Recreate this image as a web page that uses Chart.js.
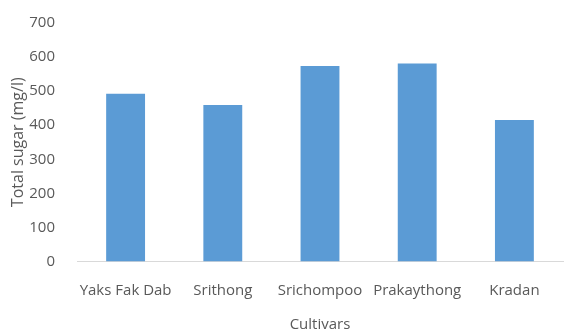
<!DOCTYPE html>
<html>
<head>
<meta charset="utf-8">
<script src="https://cdn.jsdelivr.net/npm/chart.js@4"></script>
<style>
  html, body { margin: 0; padding: 0; background: #fff; }
  #wrap { width: 564px; height: 331px; }
</style>
</head>
<body>
<div id="wrap"><canvas id="c" width="564" height="331"></canvas></div>
<script>
const cultivars = ['Yaks Fak Dab', 'Srithong', 'Srichompoo', 'Prakaythong', 'Kradan'];
const totalSugar = [492, 459, 574, 581, 415];
const yTicks = [0, 100, 200, 300, 400, 500, 600, 700];

const textColor = '#595959';
const fontFamily = "'Open Sans', 'DejaVu Sans', sans-serif";

new Chart(document.getElementById('c'), {
  type: 'bar',
  data: {
    labels: cultivars,
    datasets: [{
      data: totalSugar,
      backgroundColor: '#5B9BD5',
      borderWidth: 0,
      categoryPercentage: 1,
      barPercentage: 0.4
    }]
  },
  options: {
    responsive: false,
    animation: false,
    layout: { padding: { top: 12, right: 1, bottom: 0, left: 0 } },
    plugins: { legend: { display: false }, tooltip: { enabled: false } },
    scales: {
      x: {
        grid: { display: false },
        border: { display: true, color: '#d9d9d9', width: 1 },
        ticks: { color: textColor, font: { family: fontFamily, size: 15 }, padding: 12, maxRotation: 0 },
        title: { display: true, text: 'Cultivars', color: textColor, font: { family: fontFamily, size: 15 }, padding: { top: 15, bottom: -3 } },
        afterFit(scale) { scale.height = 69.5; }
      },
      y: {
        min: 0,
        max: 700,
        afterBuildTicks(scale) { scale.ticks = yTicks.map(v => ({ value: v })); },
        grid: { display: false },
        border: { display: false },
        ticks: { color: textColor, font: { family: fontFamily, size: 15 }, padding: 14 },
        title: { display: true, text: 'Total sugar (mg/l)', color: textColor, font: { family: fontFamily, size: 16 }, padding: { top: 9, bottom: 0 } },
        afterFit(scale) { scale.width = 77; }
      }
    }
  }
});
</script>
</body>
</html>
